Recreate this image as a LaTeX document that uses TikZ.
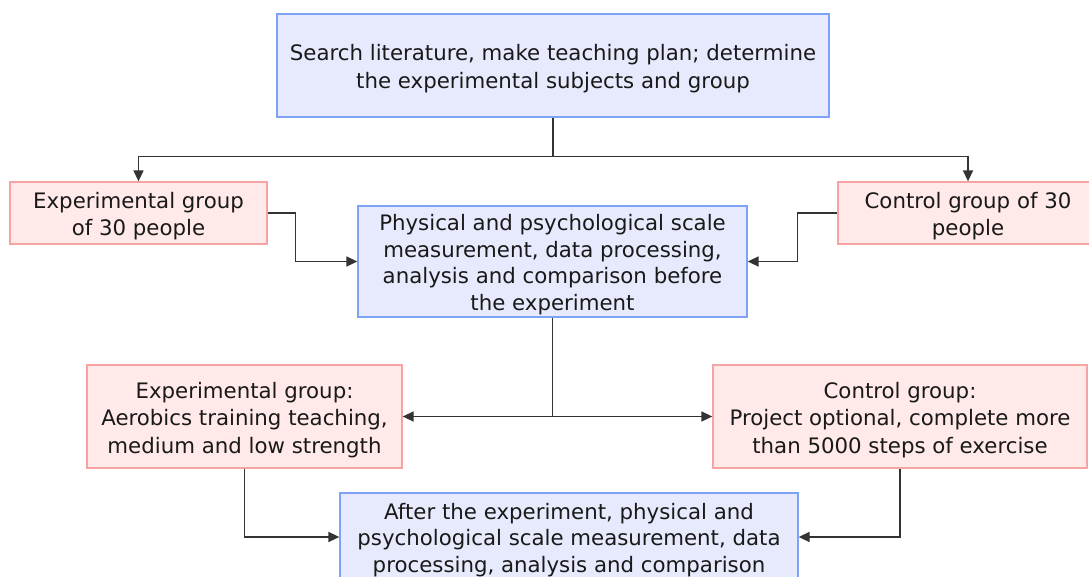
\documentclass[tikz,border=0pt]{standalone}
\usepackage{fontspec}
\setmainfont{DejaVu Sans}
\usetikzlibrary{arrows.meta}
\definecolor{bfill}{HTML}{E7EAFC}
\definecolor{bline}{HTML}{7CA3F6}
\definecolor{pfill}{HTML}{FFE9E9}
\definecolor{pline}{HTML}{F6A3A3}
\definecolor{conn}{HTML}{333333}
\newsavebox{\btbox}
\newcommand{\bt}[1]{\sbox{\btbox}{\begin{tabular}{@{}c@{}}#1\end{tabular}}\raisebox{-3.5pt}[\ht\btbox][\dp\btbox]{\usebox{\btbox}}}
\tikzset{
  box/.style={draw, line width=1.3pt, inner sep=0pt,
    font=\fontsize{21.3}{27.5}\selectfont, text=black!90},
  tight/.style={font=\fontsize{21.3}{26.5}\selectfont},
  bluebox/.style={box, fill=bfill, draw=bline},
  pinkbox/.style={box, fill=pfill, draw=pline},
  conn/.style={draw=conn, line width=1.6pt, -{Triangle[length=11pt,width=10pt]}}
}
\begin{document}
\begin{tikzpicture}[x=1pt,y=-1pt]
\useasboundingbox (0,0) rectangle (1089,576);
\node[bluebox, minimum width=552pt, minimum height=103pt] (top) at (553,65.5)
  {\bt{Search literature, make teaching plan; determine\\the experimental subjects and group}};
\node[pinkbox, minimum width=257pt, minimum height=62pt] (expg) at (138.5,213)
  {\bt{Experimental group\\of 30 people}};
\node[pinkbox, minimum width=260pt, minimum height=62pt] (ctrlg) at (968,213)
  {\bt{Control group of 30\\people}};
\node[bluebox, tight, minimum width=389pt, minimum height=111pt] (mid) at (552.5,261.5)
  {\bt{Physical and psychological scale\\measurement, data processing,\\analysis and comparison before\\the experiment}};
\node[pinkbox, minimum width=315pt, minimum height=103pt] (exp2) at (244.5,416.5)
  {\bt{Experimental group:\\Aerobics training teaching,\\medium and low strength}};
\node[pinkbox, minimum width=374pt, minimum height=103pt] (ctrl2) at (900,416.5)
  {\bt{Control group:\\Project optional, complete more\\than 5000 steps of exercise}};
\node[bluebox, tight, minimum width=458pt, minimum height=88pt] (final) at (569,537)
  {\bt{After the experiment, physical and\\psychological scale measurement, data\\processing, analysis and comparison}};
\coordinate (split) at ([yshift=-39pt]top.south);
\draw[conn] (top.south) -- (split) -| (expg.north);
\draw[conn] (split) -| (ctrlg.north);
\draw[conn] (expg.east) -- ++(28,0) |- (mid.west);
\draw[conn] (ctrlg.west) -- ++(-40,0) |- (mid.east);
\draw[conn] (mid.south) |- (exp2.east);
\draw[conn] (mid.south) |- (ctrl2.west);
\draw[conn] (exp2.south) |- (final.west);
\draw[conn] (ctrl2.south) |- (final.east);
\end{tikzpicture}
\end{document}
